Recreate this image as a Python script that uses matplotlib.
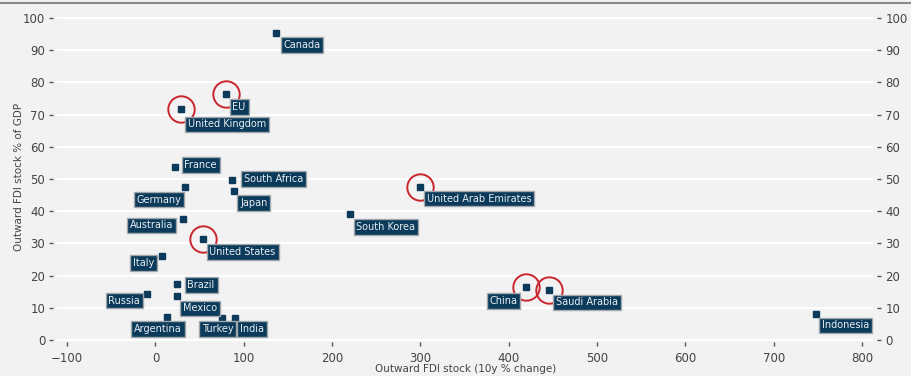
import numpy as np
import matplotlib.pyplot as plt
from matplotlib.lines import Line2D

# data
countries = ["Canada", "EU", "United Kingdom", "France", "South Africa", "Germany",
             "Japan", "Australia", "United States", "Italy", "Brazil", "Russia",
             "Mexico", "Argentina", "Turkey", "India", "South Korea",
             "United Arab Emirates", "China", "Saudi Arabia", "Indonesia"]
fdi_change = [136.4, 79.5, 28.9, 22.1, 87.0, 33.0, 88.9, 30.8, 53.8, 7.0, 24.3, -9.6,
              24.0, 12.7, 75.7, 89.6, 220.2, 299.4, 419.5, 445.8, 747.8]
fdi_gdp = [95.3, 76.3, 71.6, 53.8, 49.6, 47.6, 46.3, 37.5, 31.4, 26.2, 17.3, 14.3,
           13.7, 7.2, 6.7, 6.7, 39.0, 47.6, 16.6, 15.4, 8.1]
highlighted = ["EU", "United Kingdom", "United States", "United Arab Emirates",
               "China", "Saudi Arabia"]

# label placement: side of the box, box edge offset dx and box centre offset dy (pixels)
label_pos = {
    "Canada": ("r", 5, 12), "EU": ("r", 4.3, 12.7), "United Kingdom": ("r", 4.7, 15),
    "France": ("r", 7, -1.5), "South Africa": ("r", 8.7, -1.5), "Germany": ("l", -0.7, 12.8),
    "Japan": ("r", 3.7, 12.3), "Australia": ("l", -6.7, 6.2), "United States": ("r", 4, 12.7),
    "Italy": ("l", -5, 7.6), "Brazil": ("r", 8, 0.5), "Russia": ("l", -4.3, 6.5),
    "Mexico": ("r", 3.6, 12.5), "Argentina": ("l", 17.6, 12.3), "Turkey": ("l", 13.4, 10.9),
    "India": ("r", 3.3, 10.9), "South Korea": ("r", 4, 12.2),
    "United Arab Emirates": ("r", 4.3, 11.8), "China": ("l", -6, 14),
    "Saudi Arabia": ("r", 4, 12), "Indonesia": ("r", 3.3, 11.5),
}

bg = "#f2f2f2"
navy = "#0b3a5a"
red = "#c8252d"
txt = "#444444"

fig = plt.figure(figsize=(9.11, 3.76), dpi=100, facecolor=bg)
# axes spans x -115.5..817 and y -0.7..102
ax = fig.add_axes([0.0587, 0.0896, 0.9040, 0.8796], facecolor=bg)

ax.set_xlim(-115.5, 817)
ax.set_ylim(-0.7, 102)

yticks = np.arange(0, 101, 10)
ax.hlines(yticks, -111, 812, color="white", lw=1.5, zorder=0)

for s in ax.spines.values():
    s.set_visible(False)

ax.set_xticks(np.arange(-100, 801, 100))
ax.set_yticks(yticks)
ax.tick_params(axis="x", length=3, width=1, color="#555555", labelcolor=txt,
               labelsize=8.5, pad=4)
ax.tick_params(axis="y", length=3, width=1, color="#555555", labelcolor=txt,
               labelsize=8.5, pad=3, right=True, labelright=True)
ax.set_xticklabels([str(v).replace("-", "\u2212") for v in range(-100, 801, 100)])

ax.set_xlabel("Outward FDI stock (10y % change)", fontsize=7.5, color=txt, labelpad=-1)
ax.set_ylabel("Outward FDI stock % of GDP", fontsize=7.5, color=txt, labelpad=-1)

# highlight circles
hx = [fdi_change[countries.index(c)] for c in highlighted]
hy = [fdi_gdp[countries.index(c)] for c in highlighted]
ax.plot(hx, hy, "o", ms=19, mfc="none", mec=red, mew=1.4, zorder=2)

ax.plot(fdi_change, fdi_gdp, "s", ms=5, color=navy, zorder=3)

px = 0.72  # points per pixel at dpi 100
pad_px = 2.5
for name, x, y in zip(countries, fdi_change, fdi_gdp):
    side, dx, dy = label_pos[name]
    if side == "r":
        ha, ox = "left", dx + pad_px
    else:
        ha, ox = "right", dx - pad_px
    ax.annotate(name, (x, y), xytext=(ox * px, -dy * px), textcoords="offset points",
                ha=ha, va="center", fontsize=7, color="#e9eef2", zorder=4,
                bbox=dict(boxstyle="square,pad=0.3", fc=navy, ec="#a0a8ae", lw=1))

# thin rule along the top
fig.add_artist(Line2D([0, 1], [0.992, 0.992], color="#8a8a8a", lw=1.5,
                      transform=fig.transFigure))

fig.savefig("out.png", dpi=100, facecolor=bg)
